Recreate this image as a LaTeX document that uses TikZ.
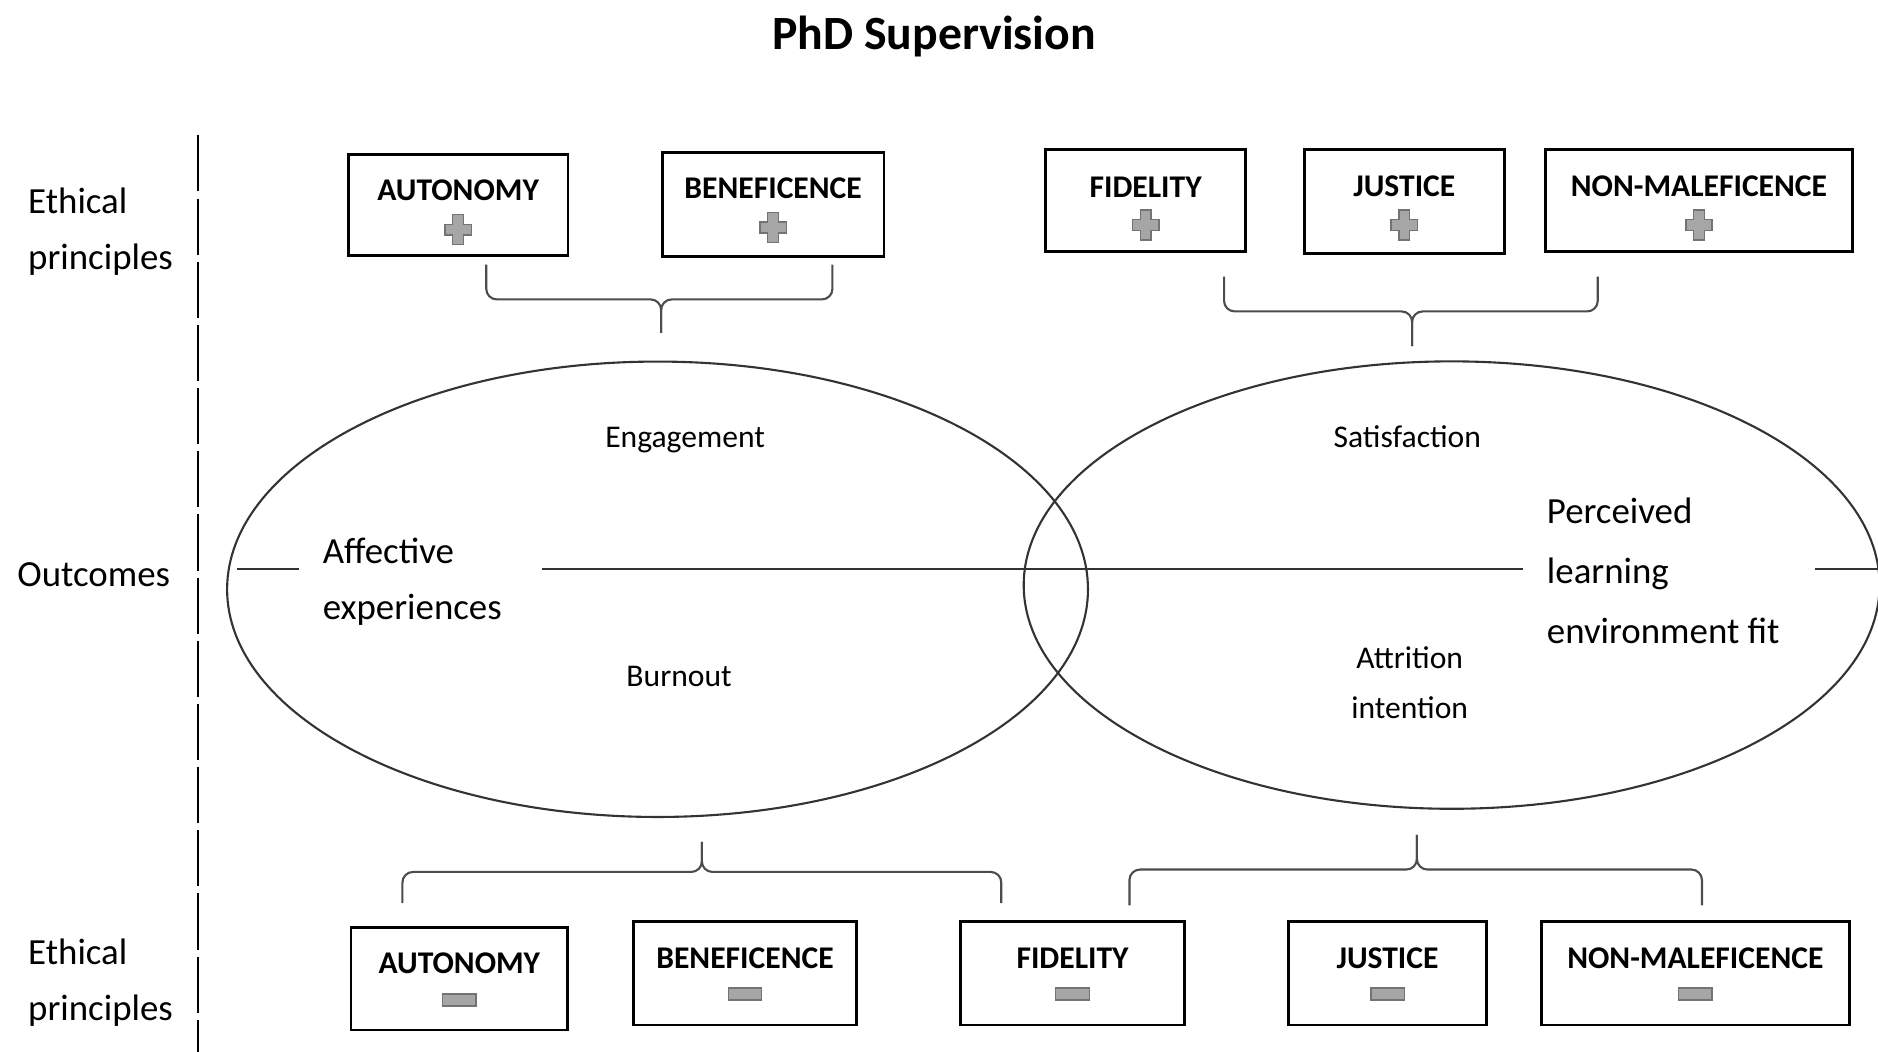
\documentclass[tikz,border=0pt]{standalone}
\usepackage{fontspec}
\setmainfont{Carlito}
\usetikzlibrary{shapes.geometric,calc}

\begin{document}
\begin{tikzpicture}[x=0.012cm,y=-0.012cm]

\tikzset{principle/.style = {shape=rectangle,draw,line width=0.8pt,inner sep=0pt}}
\tikzset{pname/.style = {anchor=base,inner sep=0pt,font=\fontsize{9}{11}\selectfont\bfseries}}
\tikzset{outcome/.style = {shape=ellipse,draw=black!80,line width=0.6pt,inner sep=0pt}}
\tikzset{small/.style = {inner sep=0pt,align=center,font=\fontsize{9}{14.3}\selectfont}}
\tikzset{big/.style = {inner sep=0pt,align=left,font=\fontsize{10.5}{16}\selectfont}}
\tikzset{bracket/.style = {draw=black!70,line width=0.6pt,rounded corners=3pt}}
\tikzset{axis/.style = {draw=black!80,line width=0.6pt}}
\tikzset{plussign/.pic = {\filldraw[fill=black!35,draw=black!55,line width=0.4pt]
  (-4.5,-12.5) -- (4.5,-12.5) -- (4.5,-4.5) -- (11,-4.5) -- (11,4.5) -- (4.5,4.5) --
  (4.5,12.5) -- (-4.5,12.5) -- (-4.5,4.5) -- (-11,4.5) -- (-11,-4.5) -- (-4.5,-4.5) -- cycle;}}
\tikzset{minussign/.pic = {\filldraw[fill=black!35,draw=black!55,line width=0.4pt]
  (-14,-5) rectangle (14,5);}}

\useasboundingbox (0,0) rectangle (1568,878);

% title
\node[anchor=base,font=\fontsize{13.6}{16}\selectfont\bfseries] (title) at (780,41) {PhD Supervision};

% side labels
\node[big,anchor=base west] (toplab) at (23,225) {Ethical\\principles};
\node[big,anchor=base west] (midlab) at (14,490) {Outcomes};
\node[big,anchor=base west] (botlab) at (23,852) {Ethical\\principles};
\draw[dash pattern=on 16pt off 2pt,line width=0.6pt] (165,113) -- (165,878);

% outcomes
\node[outcome,minimum width=8.62cm,minimum height=4.56cm] (leftell) at (549,492) {};
\node[outcome,minimum width=8.57cm,minimum height=4.48cm] (rightell) at (1212,488.5) {};
\node[small,anchor=base] (engage) at (572,374) {Engagement};
\node[small,anchor=base] (burnout) at (567,573) {Burnout};
\node[small,anchor=base] (satisf) at (1175,374) {Satisfaction};
\node[small,anchor=base] (attrit) at (1177,600) {Attrition\\intention};
\node[big,anchor=base west] (affect) at (269,517) {Affective\\experiences};
\node[big,anchor=base west,font=\fontsize{10.5}{17}\selectfont] (percfit) at (1291,537) {Perceived\\learning\\environment fit};

% axis
\coordinate (axisL) at (198,475);
\coordinate (axisR) at (1568,475);
\draw[axis,shorten >=6.5pt] (axisL) -- (affect.west |- axisL);
\draw[axis,shorten <=11.3pt,shorten >=6.5pt] (affect.east |- axisL) -- (percfit.west |- axisL);
\draw[axis,shorten <=9.9pt] (percfit.east |- axisL) -- (axisR);

% positive principles
\node[principle,minimum width=2.20cm,minimum height=1.01cm] (taut) at (382.5,171) {};
\node[principle,minimum width=2.22cm,minimum height=1.04cm] (tben) at (645.5,170.5) {};
\node[principle,minimum width=2.00cm,minimum height=1.02cm] (tfid) at (956.5,167.5) {};
\node[principle,minimum width=2.00cm,minimum height=1.04cm] (tjus) at (1172.5,168.5) {};
\node[principle,minimum width=3.08cm,minimum height=1.02cm] (tnon) at (1418.5,167.5) {};
\node[pname] (tautlab) at ($(taut.north)+(0,40)$) {AUTONOMY};
\node[pname] (tbenlab) at ($(tben.north)+(0,40)$) {BENEFICENCE};
\node[pname] (tfidlab) at ($(tfid.north)+(0,41)$) {FIDELITY};
\node[pname] (tjuslab) at ($(tjus.north)+(0,40)$) {JUSTICE};
\node[pname] (tnonlab) at ($(tnon.north)+(0,40)$) {NON-MALEFICENCE};
\pic at ($(taut.north)+(0,64)$) {plussign};
\pic at ($(tben.north)+(0,64)$) {plussign};
\pic at ($(tfid.north)+(0,64)$) {plussign};
\pic at ($(tjus.north)+(0,64)$) {plussign};
\pic at ($(tnon.north)+(0,64)$) {plussign};

% negative principles
\node[principle,minimum width=2.17cm,minimum height=1.03cm] (baut) at (383.5,817) {};
\node[principle,minimum width=2.23cm,minimum height=1.04cm] (bben) at (622,812.5) {};
\node[principle,minimum width=2.24cm,minimum height=1.04cm] (bfid) at (895.5,812.5) {};
\node[principle,minimum width=1.98cm,minimum height=1.04cm] (bjus) at (1158.5,812.5) {};
\node[principle,minimum width=3.08cm,minimum height=1.04cm] (bnon) at (1415.5,812.5) {};
\node[pname] (bautlab) at ($(baut.north)+(0,40)$) {AUTONOMY};
\node[pname] (bbenlab) at ($(bben.north)+(0,41)$) {BENEFICENCE};
\node[pname] (bfidlab) at ($(bfid.north)+(0,41)$) {FIDELITY};
\node[pname] (bjuslab) at ($(bjus.north)+(0,41)$) {JUSTICE};
\node[pname] (bnonlab) at ($(bnon.north)+(0,41)$) {NON-MALEFICENCE};
\pic at ($(baut.north)+(0,62)$) {minussign};
\pic at ($(bben.north)+(0,62)$) {minussign};
\pic at ($(bfid.north)+(0,62)$) {minussign};
\pic at ($(bjus.north)+(0,62)$) {minussign};
\pic at ($(bnon.north)+(0,62)$) {minussign};

% brackets
\draw[bracket] (406,221) -- (406,250) -- (552,250) -- (552,278);
\draw[bracket] (695,221) -- (695,250) -- (552,250) -- (552,278);
\draw[bracket] (1022,231) -- (1022,260) -- (1179,260) -- (1179,289);
\draw[bracket] (1334,231) -- (1334,260) -- (1179,260) -- (1179,289);
\draw[bracket] (336,754) -- (336,728) -- (586,728) -- (586,703);
\draw[bracket] (836,754) -- (836,728) -- (586,728) -- (586,703);
\draw[bracket] (943,756) -- (943,726) -- (1183,726) -- (1183,697);
\draw[bracket] (1421,756) -- (1421,726) -- (1183,726) -- (1183,697);

\end{tikzpicture}
\end{document}
